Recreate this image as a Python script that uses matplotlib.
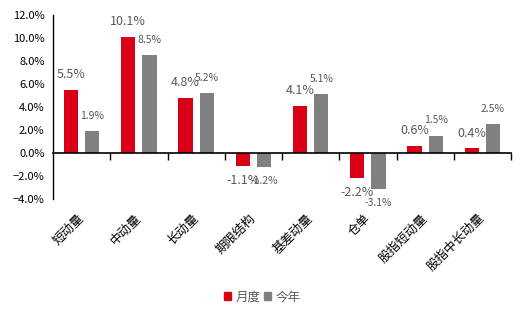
import numpy as np
import matplotlib.pyplot as plt
from matplotlib.patches import Patch
from matplotlib.ticker import PercentFormatter

plt.rcParams['font.family'] = ['Noto Sans CJK SC', 'DejaVu Sans']

categories = ['短动量', '中动量', '长动量', '期限结构', '基差动量', '仓单', '股指短动量', '股指中长动量']
monthly = [5.5, 10.1, 4.8, -1.1, 4.1, -2.2, 0.6, 0.4]
ytd = [1.9, 8.5, 5.2, -1.2, 5.1, -3.1, 1.5, 2.5]
series_names = ['月度', '今年']

red = '#DA0016'
gray = '#808080'
label_color = '#595959'

fig = plt.figure(figsize=(5.26, 3.16), dpi=100)
ax = fig.add_axes([53 / 526, 1 - 199 / 316, (511 - 53) / 526, (199 - 15) / 316])

x = np.arange(len(categories))
w = 0.25
off = 0.185
b1 = ax.bar(x - off, monthly, w, color=red)
b2 = ax.bar(x + off, ytd, w, color=gray)

for bars, vals, fs in [(b1, monthly, 9), (b2, ytd, 7.5)]:
    for rect, v in zip(bars, vals):
        cx = rect.get_x() + rect.get_width() / 2
        dy = 11 if v >= 0 else -10.5
        ax.annotate(f'{v:.1f}%', (cx, v), xytext=(0, dy), textcoords='offset points',
                    ha='center', va='center', fontsize=fs, color=label_color,
                    annotation_clip=False)

ax.set_xlim(-0.5, len(categories) - 0.5)
ax.set_ylim(-4, 12)
ax.set_yticks(np.arange(-4, 13, 2))
ax.yaxis.set_major_formatter(PercentFormatter(decimals=1))
ax.tick_params(axis='y', length=0, pad=6, labelsize=8, labelcolor='#000000')

ax.spines['top'].set_visible(False)
ax.spines['right'].set_visible(False)
ax.spines['bottom'].set_position(('data', 0))
ax.spines['bottom'].set_linewidth(1.2)
ax.spines['left'].set_linewidth(1.0)
ax.set_xticks(np.arange(0.5, len(categories), 1))
ax.set_xticklabels([])
ax.tick_params(axis='x', direction='out', length=5, width=1)

for xi, name in zip(x, categories):
    ax.annotate(name, (xi, 0), xycoords=('data', 'axes fraction'), xytext=(-3, -9),
                textcoords='offset points', rotation=45, ha='right', va='top',
                rotation_mode='anchor', fontsize=9)

handles = [Patch(color=red), Patch(color=gray)]
fig.legend(handles, series_names, loc='center', bbox_to_anchor=(262 / 526, 1 - 297 / 316),
           ncol=2, frameon=False, fontsize=9, handlelength=0.6, handleheight=0.6,
           handletextpad=0.3, columnspacing=0.3, labelcolor=label_color)

fig.savefig('out.png', dpi=100)
